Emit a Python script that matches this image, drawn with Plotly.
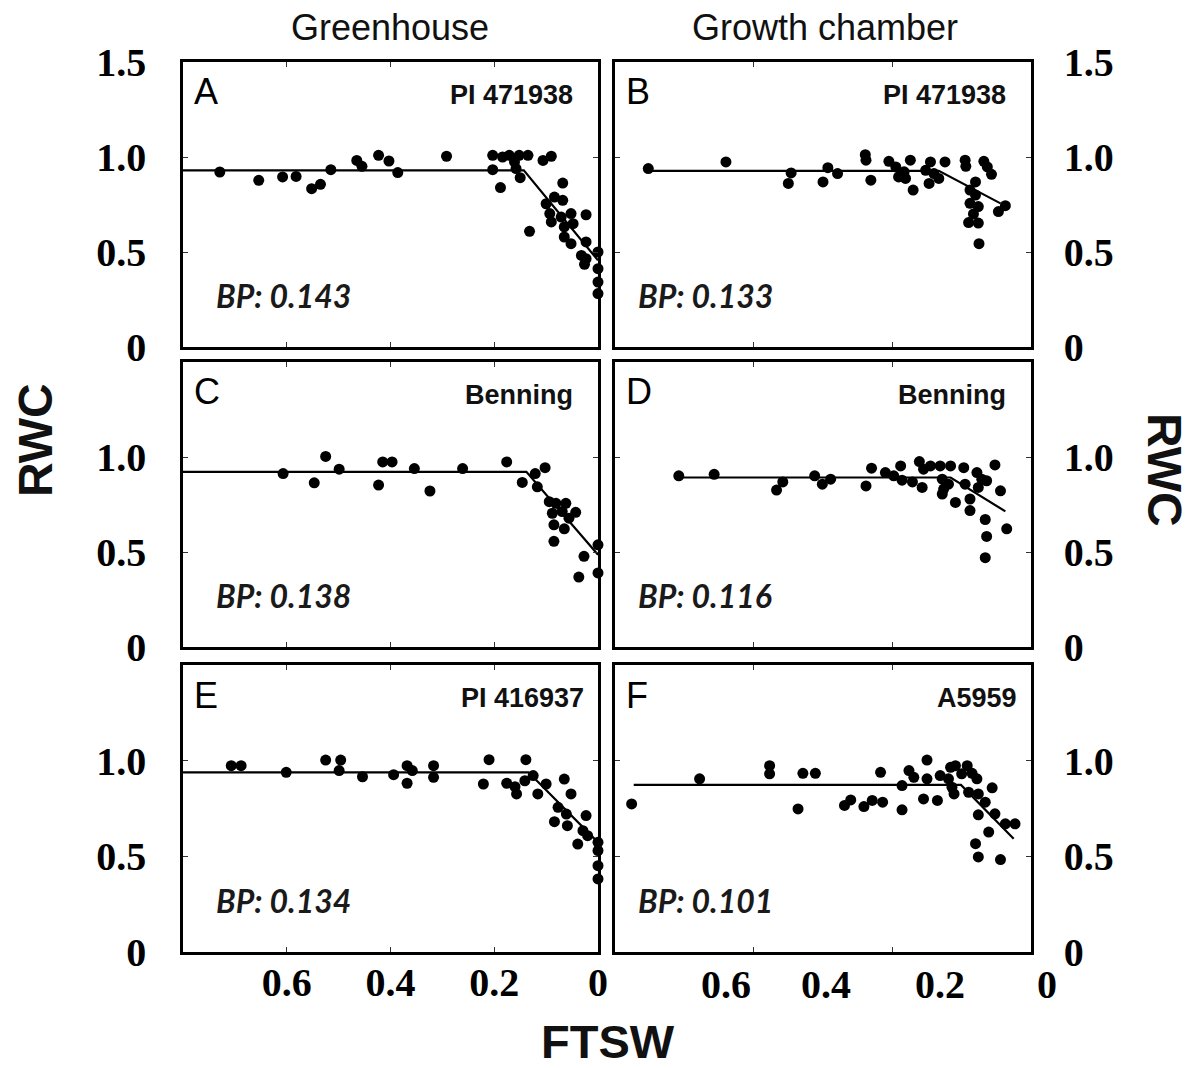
import plotly.graph_objects as go

# ---------------- data ----------------
panel_letters = ["A", "B", "C", "D", "E", "F"]
genotypes = ["PI 471938", "PI 471938", "Benning", "Benning", "PI 416937", "A5959"]
bp_values = ["0.143", "0.133", "0.138", "0.116", "0.134", "0.101"]
column_titles = ["Greenhouse", "Growth chamber"]
x_tick_labels = ["0.6", "0.4", "0.2", "0"]
y_tick_labels_top = ["0", "0.5", "1.0", "1.5"]
y_tick_labels = ["0", "0.5", "1.0"]

a_x = [0.729, 0.654, 0.608, 0.582, 0.552, 0.535, 0.515, 0.465, 0.455, 0.423, 0.403, 0.386,
       0.292, 0.203, 0.203, 0.188, 0.184, 0.171, 0.161, 0.152, 0.135, 0.158, 0.150, 0.132,
       0.106, 0.090, 0.068, 0.100, 0.084, 0.068, 0.093, 0.090, 0.071, 0.052, 0.065, 0.048,
       0.023, 0.065, 0.052, 0.023, 0.032, 0.023, 0.026, 0.0, 0.0, 0.0, 0.0]
a_y = [0.921, 0.877, 0.895, 0.898, 0.833, 0.856, 0.933, 0.982, 0.951, 1.009, 0.979, 0.918,
       1.004, 1.009, 0.933, 0.839, 1.000, 1.009, 0.974, 1.009, 1.009, 0.939, 0.891, 0.609,
       0.982, 1.004, 0.863, 0.754, 0.789, 0.772, 0.702, 0.658, 0.684, 0.702, 0.632, 0.649,
       0.696, 0.579, 0.544, 0.553, 0.482, 0.465, 0.435, 0.500, 0.412, 0.342, 0.281]

b_x = [0.552, 0.440, 0.350, 0.346, 0.300, 0.293, 0.279, 0.239, 0.238, 0.231, 0.205, 0.195,
       0.191, 0.183, 0.174, 0.181, 0.170, 0.152, 0.145, 0.147, 0.133, 0.124, 0.140, 0.095,
       0.094, 0.068, 0.063, 0.057, 0.080, 0.088, 0.080, 0.088, 0.076, 0.083, 0.090, 0.076,
       0.075, 0.047, 0.037]
b_y = [0.939, 0.974, 0.861, 0.916, 0.869, 0.944, 0.913, 1.012, 0.983, 0.878, 0.977, 0.948,
       0.895, 0.922, 0.983, 0.887, 0.826, 0.930, 0.974, 0.861, 0.887, 0.974, 0.913, 0.983,
       0.951, 0.977, 0.948, 0.909, 0.869, 0.826, 0.800, 0.756, 0.739, 0.700, 0.655, 0.652,
       0.544, 0.713, 0.744]

c_x = [0.607, 0.547, 0.525, 0.499, 0.423, 0.415, 0.397, 0.354, 0.324, 0.261, 0.176, 0.146,
       0.121, 0.102, 0.117, 0.094, 0.081, 0.062, 0.088, 0.069, 0.043, 0.056, 0.085, 0.065,
       0.085, 0.027, 0.037, 0.0, 0.0]
c_y = [0.913, 0.864, 1.003, 0.936, 0.852, 0.974, 0.974, 0.939, 0.821, 0.939, 0.974, 0.866,
       0.913, 0.944, 0.843, 0.765, 0.756, 0.756, 0.704, 0.713, 0.709, 0.678, 0.643, 0.622,
       0.556, 0.477, 0.368, 0.538, 0.390]

d_x = [0.508, 0.457, 0.367, 0.358, 0.312, 0.301, 0.289, 0.238, 0.230, 0.210, 0.198, 0.188,
       0.186, 0.171, 0.161, 0.157, 0.155, 0.145, 0.131, 0.116, 0.097, 0.128, 0.126, 0.128,
       0.109, 0.119, 0.095, 0.088, 0.088, 0.078, 0.071, 0.064, 0.076, 0.052, 0.044, 0.066,
       0.064, 0.066, 0.035]
d_y = [0.901, 0.909, 0.826, 0.869, 0.901, 0.857, 0.883, 0.848, 0.941, 0.918, 0.901, 0.953,
       0.878, 0.869, 0.976, 0.840, 0.936, 0.953, 0.953, 0.953, 0.944, 0.883, 0.831, 0.805,
       0.761, 0.857, 0.857, 0.779, 0.718, 0.918, 0.883, 0.875, 0.840, 0.958, 0.822, 0.671,
       0.582, 0.470, 0.622]

e_x = [0.707, 0.688, 0.601, 0.525, 0.496, 0.499, 0.454, 0.394, 0.368, 0.358, 0.368, 0.317,
       0.317, 0.210, 0.221, 0.176, 0.160, 0.157, 0.139, 0.141, 0.125, 0.116, 0.100, 0.065,
       0.052, 0.077, 0.061, 0.084, 0.059, 0.023, 0.029, 0.039, 0.020, 0.0, 0.0, 0.0, 0.0]
e_y = [0.974, 0.974, 0.939, 1.003, 1.003, 0.948, 0.916, 0.927, 0.974, 0.948, 0.882, 0.974,
       0.913, 1.005, 0.878, 0.882, 0.864, 0.826, 1.005, 0.895, 0.922, 0.826, 0.878, 0.904,
       0.826, 0.756, 0.721, 0.681, 0.660, 0.713, 0.634, 0.564, 0.608, 0.573, 0.530, 0.451,
       0.382]

f_x = [0.576, 0.478, 0.377, 0.377, 0.336, 0.329, 0.311, 0.269, 0.260, 0.241, 0.229, 0.214,
       0.217, 0.186, 0.186, 0.176, 0.169, 0.155, 0.150, 0.150, 0.135, 0.131, 0.119, 0.116,
       0.109, 0.114, 0.111, 0.092, 0.100, 0.085, 0.078, 0.090, 0.076, 0.056, 0.066, 0.052,
       0.076, 0.061, 0.080, 0.076, 0.044, 0.023, 0.037]
f_y = [0.774, 0.905, 0.974, 0.931, 0.748, 0.934, 0.934, 0.766, 0.795, 0.760, 0.792, 0.783,
       0.939, 0.743, 0.870, 0.948, 0.913, 0.800, 1.003, 0.905, 0.792, 0.922, 0.905, 0.965,
       0.974, 0.861, 0.826, 0.974, 0.931, 0.934, 0.905, 0.835, 0.826, 0.858, 0.783, 0.722,
       0.717, 0.627, 0.566, 0.497, 0.483, 0.670, 0.670]

# segmented (broken-stick) fits: start, breakpoint, end
fit_a_x = [0.8, 0.143, 0.0];   fit_a_y = [0.930, 0.930, 0.456]
fit_b_x = [0.552, 0.133, 0.044]; fit_b_y = [0.927, 0.927, 0.756]
fit_c_x = [0.8, 0.138, 0.0];   fit_c_y = [0.922, 0.922, 0.486]
fit_d_x = [0.508, 0.116, 0.037]; fit_d_y = [0.892, 0.892, 0.714]
fit_e_x = [0.8, 0.134, 0.0];   fit_e_y = [0.939, 0.939, 0.573]
fit_f_x = [0.573, 0.101, 0.025]; fit_f_y = [0.873, 0.873, 0.592]

points = [(a_x, a_y), (b_x, b_y), (c_x, c_y), (d_x, d_y), (e_x, e_y), (f_x, f_y)]
fits = [(fit_a_x, fit_a_y), (fit_b_x, fit_b_y), (fit_c_x, fit_c_y),
        (fit_d_x, fit_d_y), (fit_e_x, fit_e_y), (fit_f_x, fit_f_y)]

# ---------------- layout geometry ----------------
W, H = 1202, 1068
x_dom = [[183 / W, 598 / W], [615 / W, 1031 / W]]
y_dom = [[1 - 347 / H, 1 - 62 / H], [1 - 647 / H, 1 - 362 / H], [1 - 952 / H, 1 - 665 / H]]

fig = go.Figure()
tick_font = dict(family="Liberation Serif, Times New Roman, serif", size=40, color="black", weight="bold")

annotations = []
for i in range(6):
    row, col = i // 2, i % 2
    n = i + 1
    xa = "x" if n == 1 else f"x{n}"
    ya = "y" if n == 1 else f"y{n}"
    px, py = points[i]
    fx, fy = fits[i]
    fig.add_trace(go.Scatter(x=fx, y=fy, mode="lines", xaxis=xa, yaxis=ya,
                             line=dict(color="black", width=2.2), showlegend=False))
    fig.add_trace(go.Scatter(x=px, y=py, mode="markers", xaxis=xa, yaxis=ya,
                             marker=dict(color="black", size=11), cliponaxis=False,
                             showlegend=False))

    xkey = "xaxis" if n == 1 else f"xaxis{n}"
    ykey = "yaxis" if n == 1 else f"yaxis{n}"
    if col == 0:
        xr = [0.8, 0.0]
        xtv = [0.6, 0.4, 0.2, 0.0]
    else:
        xr = [0.6, 0.0]
        xtv = [0.4, 0.2]
    fig.update_layout(**{
        xkey: dict(domain=x_dom[col], range=xr, anchor=ya, showgrid=False, zeroline=False,
                   automargin=False,
                   showline=True, linecolor="black", linewidth=2.5, mirror="ticks",
                   ticks="inside", ticklen=5, tickwidth=1.2, tickcolor="#333",
                   tickvals=xtv, ticktext=x_tick_labels if col == 0 else ["0.4", "0.2"],
                   showticklabels=(row == 2 and col == 0), tickfont=tick_font,
                   ticklabelstandoff=-7),
        ykey: dict(domain=y_dom[row], range=[0, 1.5], anchor=xa, showgrid=False, zeroline=False,
                   automargin=False,
                   showline=True, linecolor="black", linewidth=2.5, mirror="ticks",
                   ticks="inside", ticklen=5, tickwidth=1.2, tickcolor="#333",
                   tickvals=[0, 0.5, 1.0, 1.5] if row == 0 else [0, 0.5, 1.0],
                   ticktext=y_tick_labels_top if row == 0 else y_tick_labels,
                   side="left" if col == 0 else "right", tickfont=tick_font,
                   ticklabelstandoff=26 if col == 0 else 22),
    })

    xd = f"{xa} domain"
    yd = f"{ya} domain"
    annotations.append(dict(text=panel_letters[i], xref=xd, yref=yd, x=0.022, y=0.895,
                            xanchor="left", yanchor="middle", showarrow=False,
                            font=dict(family="Liberation Sans, Arial", size=36, color="black")))
    annotations.append(dict(text=genotypes[i], xref=xd, yref=yd,
                            x=0.945 if i < 4 else 0.97, y=0.885,
                            xanchor="right", yanchor="middle", showarrow=False,
                            font=dict(family="Liberation Sans, Arial", size=27, color="#111",
                                      weight="bold")))
    annotations.append(dict(text=f"<b><i>BP: {bp_values[i]}</i></b>", xref=xd, yref=yd,
                            x=0.075 if col == 0 else 0.05, y=0.18,
                            xanchor="left", yanchor="middle", showarrow=False,
                            font=dict(family="Lato, Open Sans, sans-serif", size=32,
                                      color="#1a1a1a")))

# column titles
annotations.append(dict(text=column_titles[0], xref="paper", yref="paper", x=390 / W, y=1 - 28 / H,
                        showarrow=False, xanchor="center", yanchor="middle",
                        font=dict(family="Liberation Sans, Arial", size=36, color="#111")))
annotations.append(dict(text=column_titles[1], xref="paper", yref="paper", x=825 / W, y=1 - 28 / H,
                        showarrow=False, xanchor="center", yanchor="middle",
                        font=dict(family="Liberation Sans, Arial", size=36, color="#111")))
# axis titles
annotations.append(dict(text="<b>RWC</b>", xref="paper", yref="paper", x=35 / W, y=1 - 440 / H,
                        showarrow=False, textangle=-90, xanchor="center", yanchor="middle",
                        font=dict(family="Liberation Sans, Arial", size=48, color="#111")))
annotations.append(dict(text="<b>RWC</b>", xref="paper", yref="paper", x=1165 / W, y=1 - 470 / H,
                        showarrow=False, textangle=90, xanchor="center", yanchor="middle",
                        font=dict(family="Liberation Sans, Arial", size=48, color="#111")))
annotations.append(dict(text="<b>FTSW</b>", xref="paper", yref="paper", x=608 / W, y=1 - 1041 / H,
                        showarrow=False, xanchor="center", yanchor="middle",
                        font=dict(family="Liberation Sans, Arial", size=47, color="#111")))
# bottom tick labels under the growth-chamber column (as printed, offset from the ticks)
right_label_px = [726, 826, 940, 1047]
for lab, px_ in zip(x_tick_labels, right_label_px):
    annotations.append(dict(text=lab, xref="paper", yref="paper", x=px_ / W, y=1 - 984 / H,
                            showarrow=False, xanchor="center", yanchor="middle",
                            font=tick_font))

fig.update_layout(width=W, height=H, margin=dict(l=0, r=0, t=0, b=0, autoexpand=False),
                  paper_bgcolor="white", plot_bgcolor="white",
                  annotations=annotations, showlegend=False)

fig.write_html("out.html")
